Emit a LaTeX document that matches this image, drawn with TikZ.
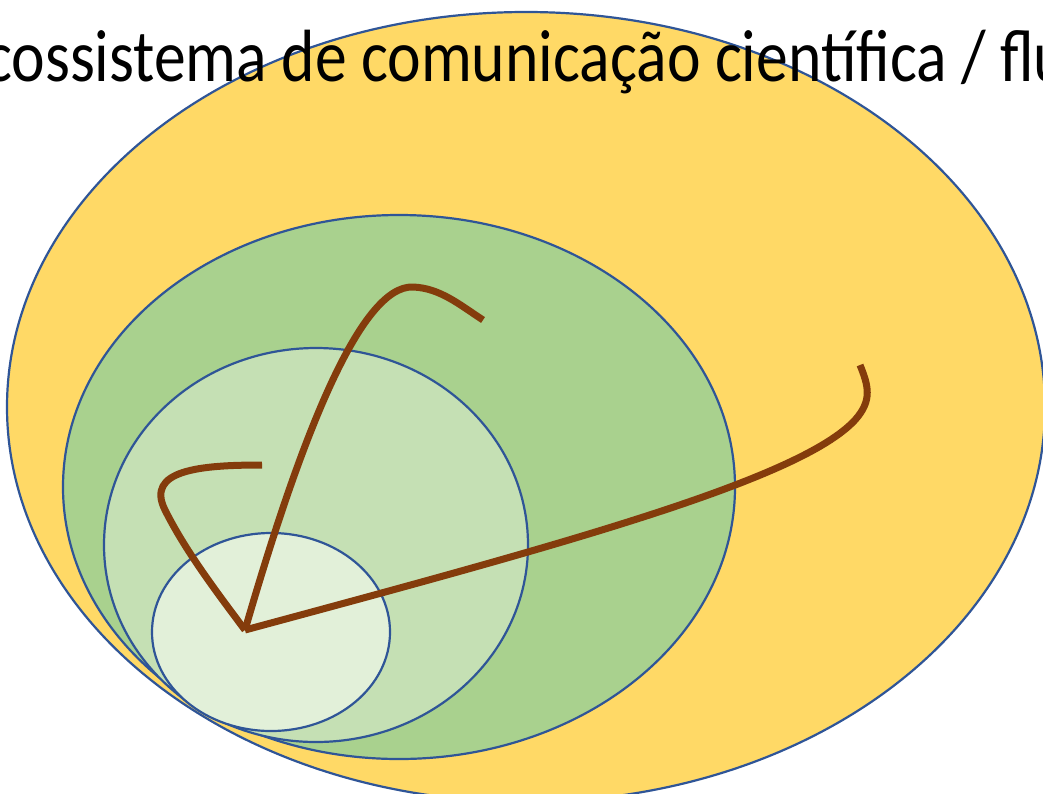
\documentclass[tikz,border=0pt]{standalone}
\usepackage{fontspec}
\setmainfont{Carlito}
\newfontfamily\slidefont[FakeStretch=0.86]{Carlito}
\usepackage{xcolor}

\definecolor{gold}{HTML}{FFD966}
\definecolor{midgreen}{HTML}{A9D18E}
\definecolor{softgreen}{HTML}{C5E0B4}
\definecolor{palegreen}{HTML}{E2F0D9}
\definecolor{edgeblue}{HTML}{2F5597}
\definecolor{trailbrown}{HTML}{843C0C}

\begin{document}
\begin{tikzpicture}[x=1pt,y=-1pt,
    rim/.style={draw=edgeblue,line width=2.2pt},
    trail/.style={draw=trailbrown,line width=7pt}]
            \useasboundingbox (0,0) rectangle (1043,793);
            \clip (0,0) rectangle (1043,793);

            \path[rim,fill=gold] (526,407) ellipse [x radius=519pt, y radius=395pt];
            \path[rim,fill=midgreen] (399,487) ellipse [x radius=336pt, y radius=272pt];
            \path[rim,fill=softgreen] (316,545) ellipse [x radius=212pt, y radius=197pt];
            \path[rim,fill=palegreen] (271,632) ellipse [x radius=119pt, y radius=99pt];

            \node (title) at (-15,81) [anchor=base west,inner sep=0pt,font=\slidefont\fontsize{74}{80}\selectfont] {cossistema de comunicação científica / flu};

            \coordinate (hub) at (245,630);
            \coordinate (westend) at (262,465);
            \coordinate (northend) at (483,320);
            \coordinate (eastend) at (860,365);

            \draw[trail] (hub) .. controls (215,590) and (185,550) .. (165,510) .. controls (145,470) and (200,465) .. (westend);
            \draw[trail] (hub) .. controls (300,440) and (360,285) .. (413,287) .. controls (440,288) and (460,305) .. (northend);
            \draw[trail] (hub) .. controls (560,545) and (800,480) .. (855,420) .. controls (873,400) and (868,385) .. (eastend);
        \end{tikzpicture}
\end{document}
